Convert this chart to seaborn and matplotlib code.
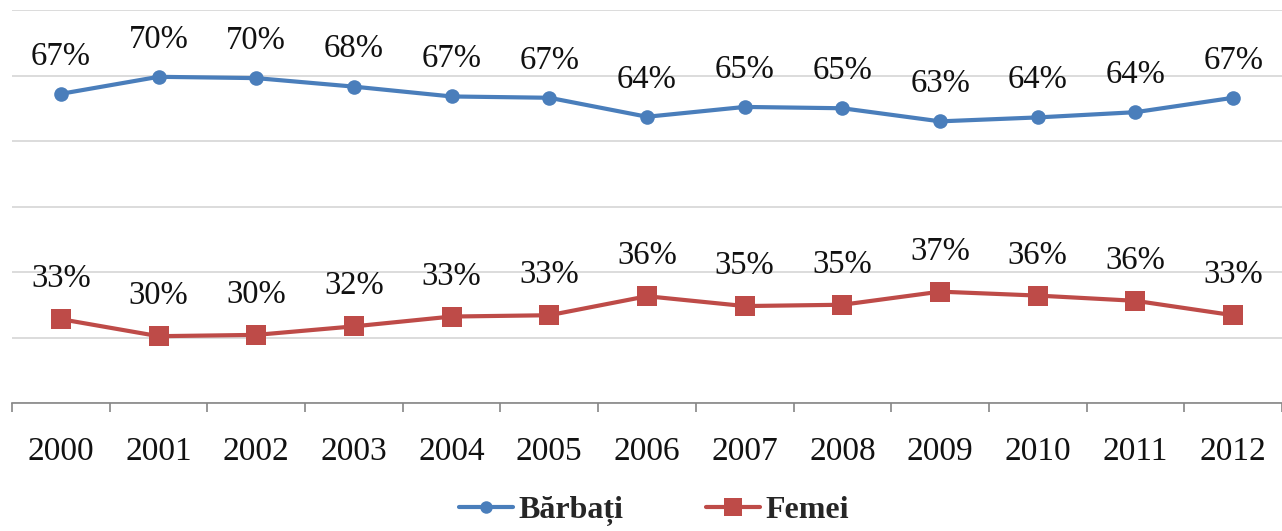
import numpy as np
import pandas as pd
import matplotlib
matplotlib.use('Agg')
import matplotlib.pyplot as plt
import seaborn as sns
from matplotlib.lines import Line2D

# date
ani = ['2000', '2001', '2002', '2003', '2004', '2005', '2006',
       '2007', '2008', '2009', '2010', '2011', '2012']
barbati = [67.2, 69.8, 69.6, 68.3, 66.8, 66.6, 63.7, 65.2, 65.0, 63.0, 63.6, 64.4, 66.6]
femei = [32.8, 30.2, 30.4, 31.7, 33.2, 33.4, 36.3, 34.8, 35.0, 37.0, 36.4, 35.6, 33.4]

df = pd.DataFrame({
    'poz': list(range(len(ani))) * 2,
    'valoare': barbati + femei,
    'sex': ['Bărbați'] * len(ani) + ['Femei'] * len(ani),
})

sns.set_style('white')
plt.rcParams['font.family'] = ['Liberation Serif', 'DejaVu Serif']

fig = plt.figure(figsize=(12.82, 5.31), dpi=100)
ax = fig.add_axes([12 / 1282, 1 - 403 / 531, 1270 / 1282, 393 / 531])

culori = {'Bărbați': '#4A7EBB', 'Femei': '#BE4B48'}
sns.lineplot(data=df, x='poz', y='valoare', hue='sex', style='sex',
             palette=culori, markers={'Bărbați': 'o', 'Femei': 's'},
             dashes=False, linewidth=3, ax=ax, legend=False)
for ln, ms in zip(ax.lines, [10.5, 14]):
    ln.set_markersize(ms)
    ln.set_markeredgewidth(0)

# etichete
for serie, off in [(barbati, 27), (femei, 29)]:
    for i, v in enumerate(serie):
        ax.annotate(f'{round(v)}%', (i, v), xytext=(0, off), textcoords='offset points',
                    ha='center', va='center', fontsize=23.5, color='#111111')

ax.set_xlim(-0.5, len(ani) - 0.5)
ax.set_ylim(20, 80)
ax.set_yticks(np.arange(20, 81, 10))
ax.set_yticklabels([])
ax.tick_params(axis='y', length=0)
ax.grid(axis='y', color='#d9d9d9', linewidth=1.3)
ax.grid(axis='x', visible=False)

ax.set_xticks(range(len(ani)))
ax.set_xticklabels(ani, fontsize=24)
ax.set_xticks(np.arange(-0.5, len(ani), 1), minor=True)
ax.tick_params(axis='x', which='major', bottom=False, length=0, pad=24, labelcolor='#111111')
ax.tick_params(axis='x', which='minor', bottom=True, length=6.5, width=1.2,
               color='#868686', direction='out')
ax.set_xlabel('')
ax.set_ylabel('')

for s in ['left', 'right', 'top']:
    ax.spines[s].set_visible(False)
ax.spines['bottom'].set_color('#868686')
ax.spines['bottom'].set_linewidth(1.2)

# legenda
h = [Line2D([], [], color=culori['Bărbați'], lw=3, marker='o', ms=9, mew=0),
     Line2D([], [], color=culori['Femei'], lw=3, marker='s', ms=13, mew=0)]
fig.legend(h, ['Bărbați', 'Femei'], loc='center', bbox_to_anchor=(0.51, 1 - 511 / 531),
           ncol=2, frameon=False, prop={'size': 23, 'weight': 'bold'},
           handlelength=1.7, columnspacing=2.6, handletextpad=0.15)

fig.savefig('out.png', dpi=100)
